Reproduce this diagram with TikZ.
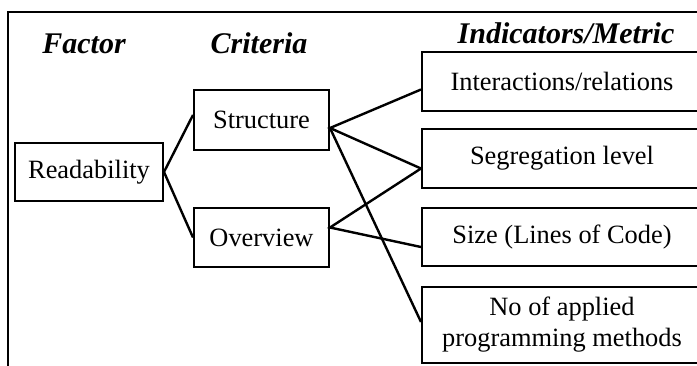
\documentclass[tikz,border=0pt]{standalone}
\usepackage{fontspec}
\setmainfont{Liberation Serif}
\begin{document}
\begin{tikzpicture}[x=0.5pt,y=-0.5pt,
  box/.style={draw, line width=1pt, inner sep=0pt, align=center,
    font=\fontsize{13.2}{15.5}\selectfont},
  head/.style={anchor=base, font=\fontsize{15}{17}\selectfont\bfseries\itshape},
  link/.style={line width=1.2pt}]
\useasboundingbox (0,0) rectangle (697,365);
\clip (0,0) rectangle (697,365);
% frame
\draw[line width=1.2pt] (8,370) -- (8,12) -- (705,12);
% column heads
\node[head] (hfactor) at (84,53) {Factor};
\node[head] (hcrit) at (259,53) {Criteria};
\node[head] (hind) at (566,43) {Indicators/Metric};
% factor and criteria
\node[box, minimum width=74pt, minimum height=29pt] (read) at (89,172) {Readability};
\node[box, minimum width=67.5pt, minimum height=30pt] (struct) at (261.5,120) {Structure};
\node[box, minimum width=67.5pt, minimum height=29.5pt] (over) at (261.5,237.5) {Overview};
% indicators
\pgfmathsetmacro\ix{562}
\node[box, minimum width=140pt, minimum height=29.5pt] (inter) at (\ix,81.5) {Interactions/relations};
\node[box, minimum width=140pt, minimum height=29.5pt] (segr) at (\ix,158.5) {Segregation level};
\node[box, minimum width=140pt, minimum height=29pt] (size) at (\ix,237) {Size (Lines of Code)};
\node[box, minimum width=140pt, minimum height=38pt] (napm) at (\ix,325) {No of applied\\programming methods};
% links
\draw[link] ([yshift=2.5pt]struct.west) -- (read.east) -- (over.west);
\draw[link] ([yshift=-4pt]inter.west) -- ([yshift=-4pt]struct.east) -- ([yshift=-5pt]segr.west);
\draw[link] ([yshift=-4pt]struct.east) -- ([yshift=1.5pt]napm.west);
\draw[link] ([yshift=-5pt]segr.west) -- ([yshift=5pt]over.east) -- ([yshift=-5pt]size.west);
\end{tikzpicture}
\end{document}
